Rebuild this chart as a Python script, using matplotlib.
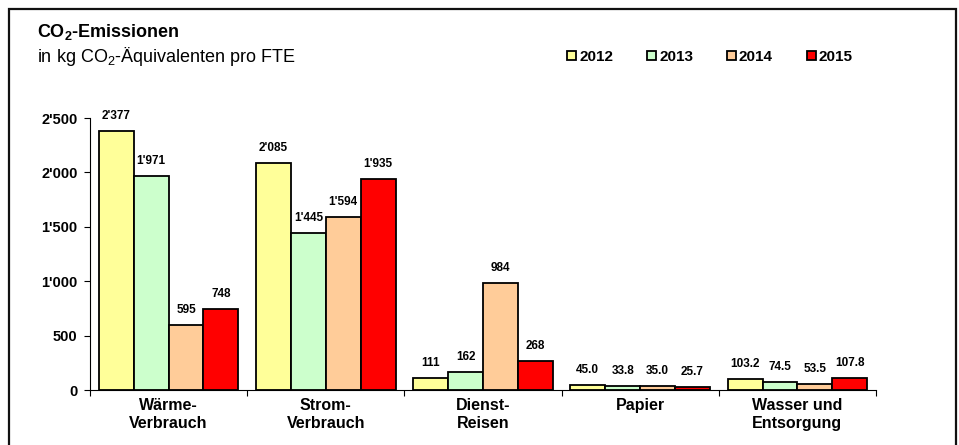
import numpy as np
import matplotlib
matplotlib.use('Agg')
import matplotlib.pyplot as plt
from matplotlib.patches import Rectangle
from matplotlib.ticker import FuncFormatter, FixedLocator

plt.rcParams['font.family'] = ['Liberation Sans', 'DejaVu Sans']
plt.rcParams['mathtext.fontset'] = 'custom'
plt.rcParams['mathtext.rm'] = 'Liberation Sans'
plt.rcParams['mathtext.bf'] = 'Liberation Sans:bold'

# Daten
kategorien = ['Wärme-\nVerbrauch', 'Strom-\nVerbrauch', 'Dienst-\nReisen', 'Papier', 'Wasser und\nEntsorgung']
jahre = ['2012', '2013', '2014', '2015']
werte_2012 = [2377, 2085, 111, 45.0, 103.2]
werte_2013 = [1971, 1445, 162, 33.8, 74.5]
werte_2014 = [595, 1594, 984, 35.0, 53.5]
werte_2015 = [748, 1935, 268, 25.7, 107.8]
dezimalen = [0, 0, 0, 1, 1]
farben = ['#FFFF99', '#CCFFCC', '#FFCC99', '#FF0000']


def fmt(v, d=0):
    if d == 0:
        return f'{v:,.0f}'.replace(',', "'")
    return f'{v:.{d}f}'


fig = plt.figure(figsize=(9.59, 4.45), dpi=100)
ax = fig.add_axes([90 / 959, 1 - 390 / 445, (876 - 90) / 959, 272 / 445])

x = np.arange(len(kategorien))
b = 0.222
serien = [werte_2012, werte_2013, werte_2014, werte_2015]
for i, (werte, farbe, jahr) in enumerate(zip(serien, farben, jahre)):
    pos = x + (i - 1.5) * b
    ax.bar(pos, werte, width=b, color=farbe, edgecolor='black', linewidth=1.3, label=jahr)
    # Beschriftung über den Balken
    for p, v, d in zip(pos, werte, dezimalen):
        ax.annotate(fmt(v, d), (p, v), xytext=(0, 6.5), textcoords='offset points',
                    ha='center', va='bottom', fontsize=8.5, fontweight='bold',
                    annotation_clip=False)

ax.set_xlim(-0.5, 4.5)
ax.set_ylim(0, 2500)
ax.set_yticks([0, 500, 1000, 1500, 2000, 2500])
ax.yaxis.set_major_formatter(FuncFormatter(lambda v, p: fmt(v)))
ax.tick_params(axis='y', direction='out', length=4, width=0.8, pad=5, labelsize=10.5)
for lab in ax.get_yticklabels():
    lab.set_fontweight('bold')

ax.set_xticks(x)
ax.set_xticklabels(kategorien, fontsize=11.5, fontweight='bold')
ax.tick_params(axis='x', length=0, pad=6)
ax.xaxis.set_minor_locator(FixedLocator(np.arange(-0.5, 5, 1)))
ax.tick_params(axis='x', which='minor', direction='out', length=4, width=0.8)

for s in ['top', 'right']:
    ax.spines[s].set_visible(False)
ax.spines['left'].set_linewidth(0.8)
ax.spines['bottom'].set_linewidth(0.8)

fig.text(37 / 959, 1 - 37 / 445, r'CO$_\mathbf{2}$-Emissionen', fontsize=13,
         fontweight='bold', va='baseline')
fig.text(37 / 959, 1 - 62 / 445, r'in kg CO$_2$-Äquivalenten pro FTE', fontsize=13,
         va='baseline')

fig.legend(loc='center left', bbox_to_anchor=(567 / 959, 1 - 57 / 445), ncol=4,
           frameon=False, handlelength=0.6, handleheight=0.6, handletextpad=0.2,
           columnspacing=2.2, borderpad=0, borderaxespad=0,
           prop={'weight': 'bold', 'size': 11})

# Rahmen um die Grafik
fig.patches.append(Rectangle((9 / 959, -0.02), (956 - 9) / 959, 1 - 9 / 445 + 0.02,
                             transform=fig.transFigure, fill=False,
                             edgecolor='#111111', linewidth=1.6))

fig.savefig('out.png', dpi=100)
